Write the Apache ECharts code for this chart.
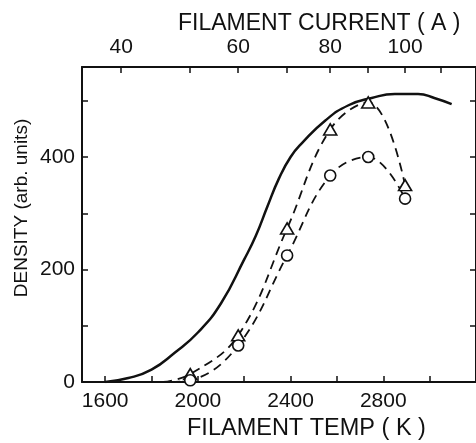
<!DOCTYPE html>
<html>
<head>
<meta charset="utf-8">
<script src="https://cdn.jsdelivr.net/npm/echarts@6/dist/echarts.min.js"></script>
<style>html,body{margin:0;padding:0;background:#fff;}#chart{width:476px;height:443px;}</style>
</head>
<body>
<div id="chart"></div>
<script>
// ---- data ----
const currentTicks = [40, 50, 60, 70, 80, 90, 100, 110];              // filament current (A)
const currentTickTemps = [1669, 1967, 2174, 2385, 2571, 2735, 2894, 3050]; // corresponding temp (K)
const currentLabels = [40, 60, 80, 100];
const tempTicks = [1600, 1800, 2000, 2200, 2400, 2600, 2800, 3000];
const tempLabels = [1600, 2000, 2400, 2800];
const densityTicks = [0, 100, 200, 300, 400, 500];
const densityLabels = [0, 200, 400];

const pointCurrents = [50, 60, 70, 80, 90, 100];
const triangleValues = [14, 83, 273, 449, 497, 350];
const circleValues = [3, 65, 225, 367, 400, 326];
const triangleCurveStart = [1850, 0];
const circleCurveStart = [1885, 0];

const solidTemps = [1600, 1700, 1800, 1900, 2000, 2100, 2200, 2250, 2300, 2350, 2400, 2450, 2550, 2650, 2750, 2850, 2950, 3020, 3095];
const solidValues = [0, 7, 22, 52, 88, 140, 218, 260, 312, 362, 400, 425, 465, 492, 505, 512, 512, 505, 494];

// ---- build ----
const tempOfCurrent = c => currentTickTemps[currentTicks.indexOf(c)];
const pointTemps = pointCurrents.map(tempOfCurrent);
const triPts = pointTemps.map((t, i) => [t, triangleValues[i]]);
const cirPts = pointTemps.map((t, i) => [t, circleValues[i]]);
const solidPts = solidTemps.map((t, i) => [t, solidValues[i]]);

const FONT = '"Liberation Sans", Arial, sans-serif';
const black = '#111';

const chart = echarts.init(document.getElementById('chart'), null, {renderer: 'canvas'});
chart.setOption({
  animation: false,
  backgroundColor: '#fff',
  grid: {left: 82, right: 0, top: 67, bottom: 61, containLabel: false},
  xAxis: [
    {
      type: 'value', position: 'bottom', min: 1500, max: 3200,
      axisLine: {show: true, onZero: false, lineStyle: {color: black, width: 2}},
      axisTick: {show: true, inside: true, length: 6, customValues: tempTicks, lineStyle: {color: black, width: 1.5}},
      axisLabel: {show: true, customValues: tempLabels, margin: 9, color: black, fontSize: 21, fontFamily: FONT,
        formatter: v => String(v)},
      splitLine: {show: false}
    },
    {
      type: 'value', position: 'top', min: 1500, max: 3200,
      axisLine: {show: true, onZero: false, lineStyle: {color: black, width: 2}},
      axisTick: {show: true, inside: true, length: 6, customValues: currentTickTemps, lineStyle: {color: black, width: 1.5}},
      axisLabel: {
        show: true, customValues: currentLabels.map(tempOfCurrent), margin: 9, color: black, fontSize: 21, fontFamily: FONT,
        formatter: v => { const i = currentTickTemps.indexOf(v); return i >= 0 ? String(currentTicks[i]) : ''; }
      },
      splitLine: {show: false}
    }
  ],
  yAxis: [
    {
      type: 'value', position: 'left', min: 0, max: 560,
      axisLine: {show: true, onZero: false, lineStyle: {color: black, width: 2}},
      axisTick: {show: true, inside: true, length: 6, customValues: densityTicks, lineStyle: {color: black, width: 1.5}},
      axisLabel: {show: true, customValues: densityLabels, margin: 7, color: black, fontSize: 21, fontFamily: FONT,
        formatter: v => String(v)},
      splitLine: {show: false}
    },
    {
      type: 'value', position: 'right', min: 0, max: 560,
      axisLine: {show: true, onZero: false, lineStyle: {color: black, width: 2}},
      axisTick: {show: true, inside: true, length: 6, customValues: densityTicks, lineStyle: {color: black, width: 1.5}},
      axisLabel: {show: false},
      splitLine: {show: false}
    }
  ],
  graphic: [
    {type: 'text', x: 178, y: 12, style: {text: 'FILAMENT CURRENT ( A )', font: '23px ' + FONT, fill: black}},
    {type: 'text', x: 187, y: 417, style: {text: 'FILAMENT TEMP ( K )', font: '23.5px ' + FONT, fill: black}},
    {type: 'text', x: 22, y: 208, rotation: Math.PI / 2,
      style: {text: 'DENSITY (arb. units)', font: '19px ' + FONT, fill: black, align: 'center', verticalAlign: 'middle'}}
  ],
  series: [
    {
      type: 'line', data: solidPts, smooth: 0.5, symbol: 'none', z: 2,
      lineStyle: {color: black, width: 2.5}
    },
    {
      type: 'line', data: [triangleCurveStart].concat(triPts), smooth: 0.4, symbol: 'none', z: 2,
      lineStyle: {color: black, width: 1.8, type: [9, 6]}
    },
    {
      type: 'line', data: [circleCurveStart].concat(cirPts), smooth: 0.4, symbol: 'none', z: 2,
      lineStyle: {color: black, width: 1.8, type: [9, 6]}
    },
    {
      type: 'scatter', data: triPts, symbol: 'triangle', symbolSize: [13, 11], z: 4,
      itemStyle: {color: '#fff', borderColor: black, borderWidth: 1.6, opacity: 1}
    },
    {
      type: 'scatter', data: cirPts, symbol: 'circle', symbolSize: 11, z: 4,
      itemStyle: {color: '#fff', borderColor: black, borderWidth: 1.6, opacity: 1}
    }
  ]
});
</script>
</body>
</html>
